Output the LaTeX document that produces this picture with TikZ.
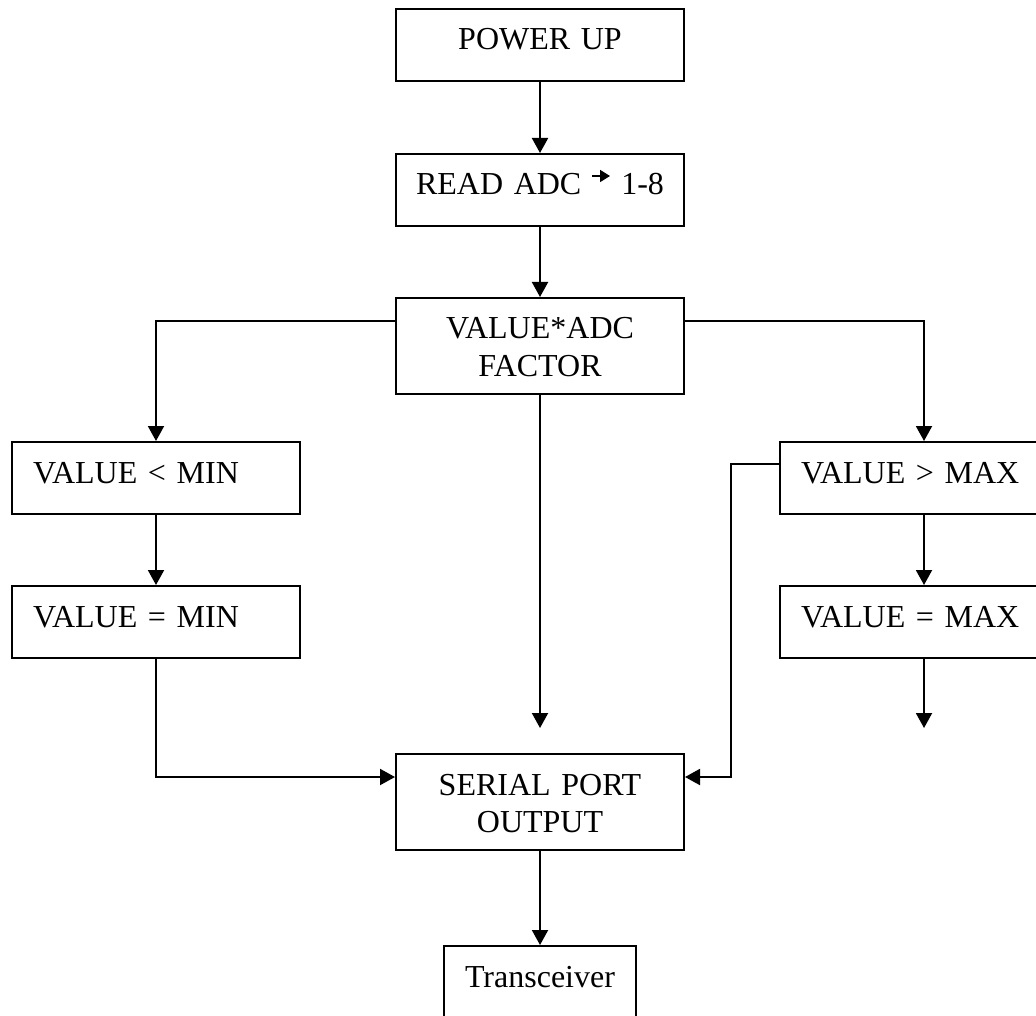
\documentclass[tikz,border=0pt]{standalone}
\usepackage{fontspec}
\setmainfont{Liberation Serif}
\usetikzlibrary{arrows.meta}

\begin{document}
\begin{tikzpicture}[x=0.5pt,y=-0.5pt,
  box/.style={draw, line width=1pt, rectangle, anchor=north,
    inner xsep=0pt, inner ysep=0pt, text height=20.5pt, text depth=15.5pt,
    text width=144pt, align=center, font=\fontsize{16}{18.75}\selectfont},
  dbl/.style={text depth=27.5pt},
  side/.style={inner xsep=10.5pt, text width=123pt, align=left},
  arr/.style={draw, line width=1pt, -{Triangle[length=7.5pt,width=8pt]}},
  glyph/.style={draw, line width=0.8pt, -{Triangle[length=5pt,width=6pt]}}
]
\useasboundingbox (0,0) rectangle (1036,1015);
\clip (0,0) rectangle (1036,1015);

% process boxes
\node[box] (power) at (540,8) {POWER UP};
\node[box] (read) at (540,153) {READ ADC\hspace{20pt}1-8};
\node[box,dbl] (value) at (540,297) {VALUE*ADC\\FACTOR};
\node[box,side] (vmin) at (156,441) {VALUE {<} MIN};
\node[box,side] (vmineq) at (156,585) {VALUE = MIN};
\node[box,side] (vmax) at (924,441) {VALUE {>} MAX};
\node[box,side] (vmaxeq) at (924,585) {VALUE = MAX};
\node[box,dbl] (serial) at (540,753) {SERIAL PORT\\OUTPUT};
\node[box,text width=96pt,text depth=40pt] (trans) at (540,945) {Transceiver};

% small arrow inside the ADC label
\draw[glyph] ([xshift=26pt,yshift=-11.5pt]read.north) -- ([xshift=35pt,yshift=-11.5pt]read.north);

% open ends of two branches
\coordinate (midend) at (540,728);
\coordinate (maxend) at (924,728);

% connectors
\draw[arr] (power.south) -- (read.north);
\draw[arr] (read.south) -- (value.north);
\draw[arr] ([yshift=-12pt]value.north west) -| (vmin.north);
\draw[arr] ([yshift=-12pt]value.north east) -| (vmax.north);
\draw[arr] (value.south) -- (midend);
\draw[arr] (vmin.south) -- (vmineq.north);
\draw[arr] (vmineq.south) |- ([yshift=-12pt]serial.north west);
\draw[arr] ([yshift=-11.5pt]vmax.north west) -- ++(-24pt,0) |- ([yshift=-12pt]serial.north east);
\draw[arr] (vmax.south) -- (vmaxeq.north);
\draw[arr] (vmaxeq.south) -- (maxend);
\draw[arr] (serial.south) -- (trans.north);
\end{tikzpicture}
\end{document}
